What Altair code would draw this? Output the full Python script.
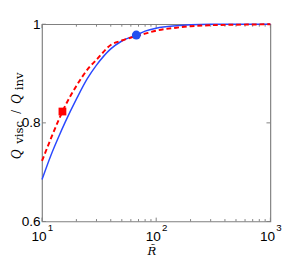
import altair as alt
import pandas as pd

# ---- data ----
R_blue = [10, 12, 14, 16, 20, 25, 30, 40, 50, 67, 80, 100, 150, 200, 300, 1000]
Q_blue = [0.685, 0.735, 0.772, 0.802, 0.848, 0.890, 0.917, 0.950, 0.966, 0.978, 0.986, 0.992, 0.997, 0.999, 1.0, 1.0]
R_red = [10, 12, 14, 16, 20, 26, 30, 40, 50, 67, 80, 100, 150, 200, 300, 500, 1000]
Q_red = [0.723, 0.769, 0.806, 0.835, 0.875, 0.913, 0.928, 0.958, 0.967, 0.976, 0.981, 0.987, 0.993, 0.996, 0.998, 0.999, 1.0]
square_R = [15.1]
square_Q = [0.823]
circle_R = [67]
circle_Q = [0.978]
x_major = [10, 100, 1000]
x_exponents = ["1", "2", "3"]
x_minor = [20, 30, 40, 50, 60, 70, 80, 90, 200, 300, 400, 500, 600, 700, 800, 900]
y_ticks = [0.6, 0.8, 1.0]

W, H = 235, 203
AX = "#808080"

xs = alt.Scale(type="log", domain=[10, 1000], nice=False)
ys = alt.Scale(domain=[0.6, 1.0], nice=False, zero=False)

blue_df = pd.DataFrame({"R": R_blue, "Q": Q_blue})
red_df = pd.DataFrame({"R": R_red, "Q": Q_red})
sq_df = pd.DataFrame({"R": square_R, "Q": square_Q})
ci_df = pd.DataFrame({"R": circle_R, "Q": circle_Q})
xmaj_df = pd.DataFrame({"R": x_major, "e": x_exponents})
xmin_df = pd.DataFrame({"R": x_minor})
yt_df = pd.DataFrame({"Q": y_ticks})

blue = alt.Chart(blue_df).mark_line(color="#2a48ff", strokeWidth=1.5, interpolate="monotone").encode(
    x=alt.X("R:Q", scale=xs, axis=None),
    y=alt.Y("Q:Q", scale=ys, axis=alt.Axis(
        values=y_ticks, labelExpr="datum.value == 1 ? '1' : format(datum.value, '.1f')",
        ticks=False, domain=False, grid=False, title=None, labelFontSize=14,
        labelFont="Liberation Sans", labelColor="black", labelPadding=2)),
)
red = alt.Chart(red_df).mark_line(color="#ff0000", strokeWidth=2, strokeDash=[5, 3], interpolate="monotone").encode(
    x=alt.X("R:Q", scale=xs, axis=None),
    y=alt.Y("Q:Q", scale=ys),
)
sq = alt.Chart(sq_df).mark_point(shape="square", filled=True, size=64, color="#ff0000", opacity=1).encode(
    x=alt.X("R:Q", scale=xs, axis=None), y=alt.Y("Q:Q", scale=ys))
ci = alt.Chart(ci_df).mark_point(shape="circle", filled=True, size=85, color="#2250f0", opacity=1).encode(
    x=alt.X("R:Q", scale=xs, axis=None), y=alt.Y("Q:Q", scale=ys))

# ticks (inward, on all four sides)
def xtick(df, y0, y1):
    return alt.Chart(df).mark_rule(color=AX, strokeWidth=1).encode(
        x=alt.X("R:Q", scale=xs, axis=None), y=alt.value(y0), y2=alt.value(y1))

def ytick(x0, x1):
    return alt.Chart(yt_df).mark_rule(color=AX, strokeWidth=1).encode(
        y=alt.Y("Q:Q", scale=ys), x=alt.value(x0), x2=alt.value(x1))

ticks = [
    xtick(xmaj_df, H, H - 4), xtick(xmaj_df, 0, 4),
    xtick(xmin_df, H, H - 2.5), xtick(xmin_df, 0, 2.5),
    ytick(0, 4), ytick(W, W - 4),
]

# x tick labels "10" with superscript exponent
xl_base = alt.Chart(xmaj_df).mark_text(font="Liberation Sans", fontSize=14, baseline="top",
                                        align="center", dx=-3, color="black").encode(
    x=alt.X("R:Q", scale=xs, axis=None), y=alt.value(H + 9), text=alt.value("10"))
xl_exp = alt.Chart(xmaj_df).mark_text(font="Liberation Sans", fontSize=10, baseline="middle",
                                       align="left", dx=6, color="black").encode(
    x=alt.X("R:Q", scale=xs, axis=None), y=alt.value(H + 7), text=alt.Text("e:N"))

# axis titles
one = pd.DataFrame({"a": [0]})

def t(txt, x, y, size, style, angle=0, align="left", font="Liberation Serif"):
    return alt.Chart(one).mark_text(font=font, fontSize=size, fontStyle=style,
                                    align=align, baseline="alphabetic", color="black",
                                    angle=angle).encode(
        x=alt.value(x), y=alt.value(y), text=alt.value(txt))

ytitle = [
    t("Q", -22, 139, 14, "italic", 270),
    t("visc", -19.5, 123, 12, "normal", 270, font="DejaVu Serif"),
    t("/", -22, 92, 14, "normal", 270),
    t("Q", -22, 82, 14, "italic", 270),
    t("inv", -19.5, 68, 12, "normal", 270, font="DejaVu Serif"),
]
xtitle = t("R\u0303", 113, 237, 12, "italic", 0, "center", font="DejaVu Serif")

chart = alt.layer(
    *ticks, blue, red, ci, sq, xl_base, xl_exp, xtitle, *ytitle
).properties(
    width=W, height=H,
    background="white",
    autosize=alt.AutoSizeParams(type="none"),
    padding={"left": 35, "top": 13, "right": 13, "bottom": 39},
).configure_view(stroke=AX, strokeWidth=1.2)

chart.save("out.html", embed_options={"renderer": "svg", "actions": False})
